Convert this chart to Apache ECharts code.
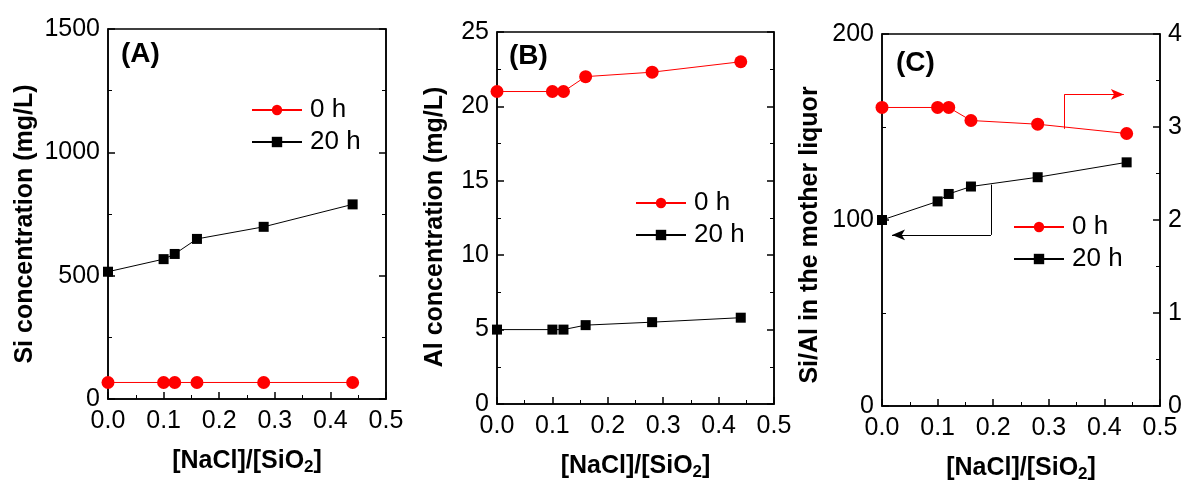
<!DOCTYPE html>
<html>
<head>
<meta charset="utf-8">
<script src="https://cdn.jsdelivr.net/npm/echarts@6/dist/echarts.min.js"></script>
<style>
  html, body { margin: 0; padding: 0; background: #fff; }
  #chart { width: 1187px; height: 489px; }
</style>
</head>
<body>
<div id="chart"></div>
<script>
// [NaCl]/[SiO2] ratios
const ratio = [0, 0.1, 0.12, 0.16, 0.28, 0.44];

// (A) Si concentration, mg/L
const siAt0h = [67, 67, 67, 67, 67, 67];
const siAt20h = [516, 567, 588, 649, 698, 789];

// (B) Al concentration, mg/L
const alAt0h = [21, 21, 21, 22, 22.3, 23];
const alAt20h = [5, 5, 5, 5.3, 5.5, 5.8];

// (C) Si/Al in the mother liquor (0 h on right axis, 20 h on left axis)
const siAlAt0h = [3.21, 3.21, 3.21, 3.07, 3.03, 2.93];
const siAlAt20h = [100, 110, 114, 118, 123, 131];

// arrows pointing each curve to its axis in (C)
const arrowRight = [[0.328, 2.98], [0.328, 3.35], [0.435, 3.35]];
const arrowLeft = [[0.196, 119], [0.196, 92], [0.018, 92]];

const panelLabels = ['(A)', '(B)', '(C)'];
const legendNames = ['0 h', '20 h'];

const FONT = 'Liberation Sans, Arial, sans-serif';
const RED = '#ff0000';

const pairs = (ys) => ratio.map((x, i) => [x, ys[i]]);

const axisCommon = {
    axisLine: { show: true, lineStyle: { color: '#000', width: 1.5 } },
    axisTick: { show: true, inside: true, length: 7, lineStyle: { color: '#000', width: 1.5 } },
    minorTick: { show: true, splitNumber: 2, length: 4, lineStyle: { color: '#000', width: 1 } },
    splitLine: { show: false },
    axisLabel: { color: '#000', fontSize: 25, fontFamily: FONT, margin: 8, formatter: v => String(v) }
};

function xAxis(gridIndex) {
    return Object.assign({}, axisCommon, {
        type: 'value', gridIndex, min: 0, max: 0.5, interval: 0.1,
        axisLabel: Object.assign({}, axisCommon.axisLabel, { formatter: v => v.toFixed(1), margin: 10 }),
        name: '{b|[NaCl]/[SiO}{s|2}{b|]}',
        nameLocation: 'middle', nameGap: 48,
        nameTextStyle: {
            rich: {
                b: { fontSize: 25, fontWeight: 'bold', fontFamily: FONT, color: '#000' },
                s: { fontSize: 17, fontWeight: 'bold', fontFamily: FONT, color: '#000', padding: [12, 0, 0, 0] }
            }
        }
    });
}

// shift pads the rotated title downward on screen
function yAxis(gridIndex, max, interval, name, nameGap, shift) {
    return Object.assign({}, axisCommon, {
        type: 'value', gridIndex, min: 0, max, interval, position: 'left',
        name, nameLocation: 'middle', nameGap, nameRotate: 90,
        nameTextStyle: {
            color: '#000', fontSize: 25, fontWeight: 'bold', fontFamily: FONT,
            padding: [0, shift, 0, 0]
        }
    });
}

function mirrorY(gridIndex, max, interval) {
    return Object.assign({}, axisCommon, {
        type: 'value', gridIndex, min: 0, max, interval, position: 'right',
        axisLabel: { show: false }
    });
}

function arrowMark(coords, color) {
    const segs = [];
    for (let i = 0; i < coords.length - 1; i++) {
        const last = i === coords.length - 2;
        segs.push([
            { coord: coords[i], symbol: 'none' },
            { coord: coords[i + 1], symbol: last ? 'arrow' : 'none', symbolSize: last ? [8, 13] : 0 }
        ]);
    }
    return {
        silent: true, animation: false, symbol: 'none', precision: 3,
        label: { show: false },
        lineStyle: { color, width: 1, type: 'solid' },
        emphasis: { disabled: true },
        data: segs
    };
}

function lineSeries(name, data, xi, yi, color, symbol, size, arrowCoords) {
    const s = {
        name, type: 'line', xAxisIndex: xi, yAxisIndex: yi, data: pairs(data),
        symbol, symbolSize: size, showSymbol: true,
        lineStyle: { color, width: 1 }, itemStyle: { color },
        emphasis: { disabled: true }, z: 3
    };
    if (arrowCoords) s.markLine = arrowMark(arrowCoords, color);
    return s;
}

const grids = [
    { left: 108, top: 29, width: 278, height: 370 },
    { left: 497, top: 32, width: 277, height: 372 },
    { left: 882, top: 34, width: 278, height: 372 }
].map(g => Object.assign(g, { show: true, borderColor: '#000', borderWidth: 1.5, backgroundColor: 'transparent' }));

const legendPos = [
    { left: 251, top: 97 },
    { left: 635, top: 190 },
    { left: 1013, top: 214 }
];

const titlePos = [
    { left: 121, top: 40 },
    { left: 509, top: 42 },
    { left: 896, top: 49 }
];

const option = {
    animation: false,
    backgroundColor: '#fff',
    title: panelLabels.map((t, i) => Object.assign({
        text: t, padding: 0,
        textStyle: { fontSize: 28, fontWeight: 'bold', fontFamily: FONT, color: '#000' }
    }, titlePos[i])),
    legend: legendPos.map(p => Object.assign({
        data: legendNames, orient: 'vertical', itemWidth: 50, itemHeight: 13, itemGap: 6,
        padding: 0, selectedMode: false,
        textStyle: { fontSize: 26, fontFamily: FONT, color: '#000', padding: [0, 0, 0, 3] }
    }, p)),
    grid: grids,
    xAxis: [xAxis(0), xAxis(1), xAxis(2)],
    yAxis: [
        yAxis(0, 1500, 500, 'Si concentration (mg/L)', 70, 20),
        mirrorY(0, 1500, 500),
        yAxis(1, 25, 5, 'Al concentration (mg/L)', 49, 18),
        mirrorY(1, 25, 5),
        yAxis(2, 200, 100, 'Si/Al in the mother liquor', 59, 30),
        Object.assign({}, axisCommon, {
            type: 'value', gridIndex: 2, min: 0, max: 4, interval: 1, position: 'right'
        })
    ],
    series: [
        lineSeries('0 h', siAt0h, 0, 0, RED, 'circle', 13),
        lineSeries('20 h', siAt20h, 0, 0, '#000', 'rect', 10),
        lineSeries('0 h', alAt0h, 1, 2, RED, 'circle', 13),
        lineSeries('20 h', alAt20h, 1, 2, '#000', 'rect', 10),
        lineSeries('0 h', siAlAt0h, 2, 5, RED, 'circle', 13, arrowRight),
        lineSeries('20 h', siAlAt20h, 2, 4, '#000', 'rect', 10, arrowLeft)
    ]
};

const chart = echarts.init(document.getElementById('chart'));
chart.setOption(option);
</script>
</body>
</html>
